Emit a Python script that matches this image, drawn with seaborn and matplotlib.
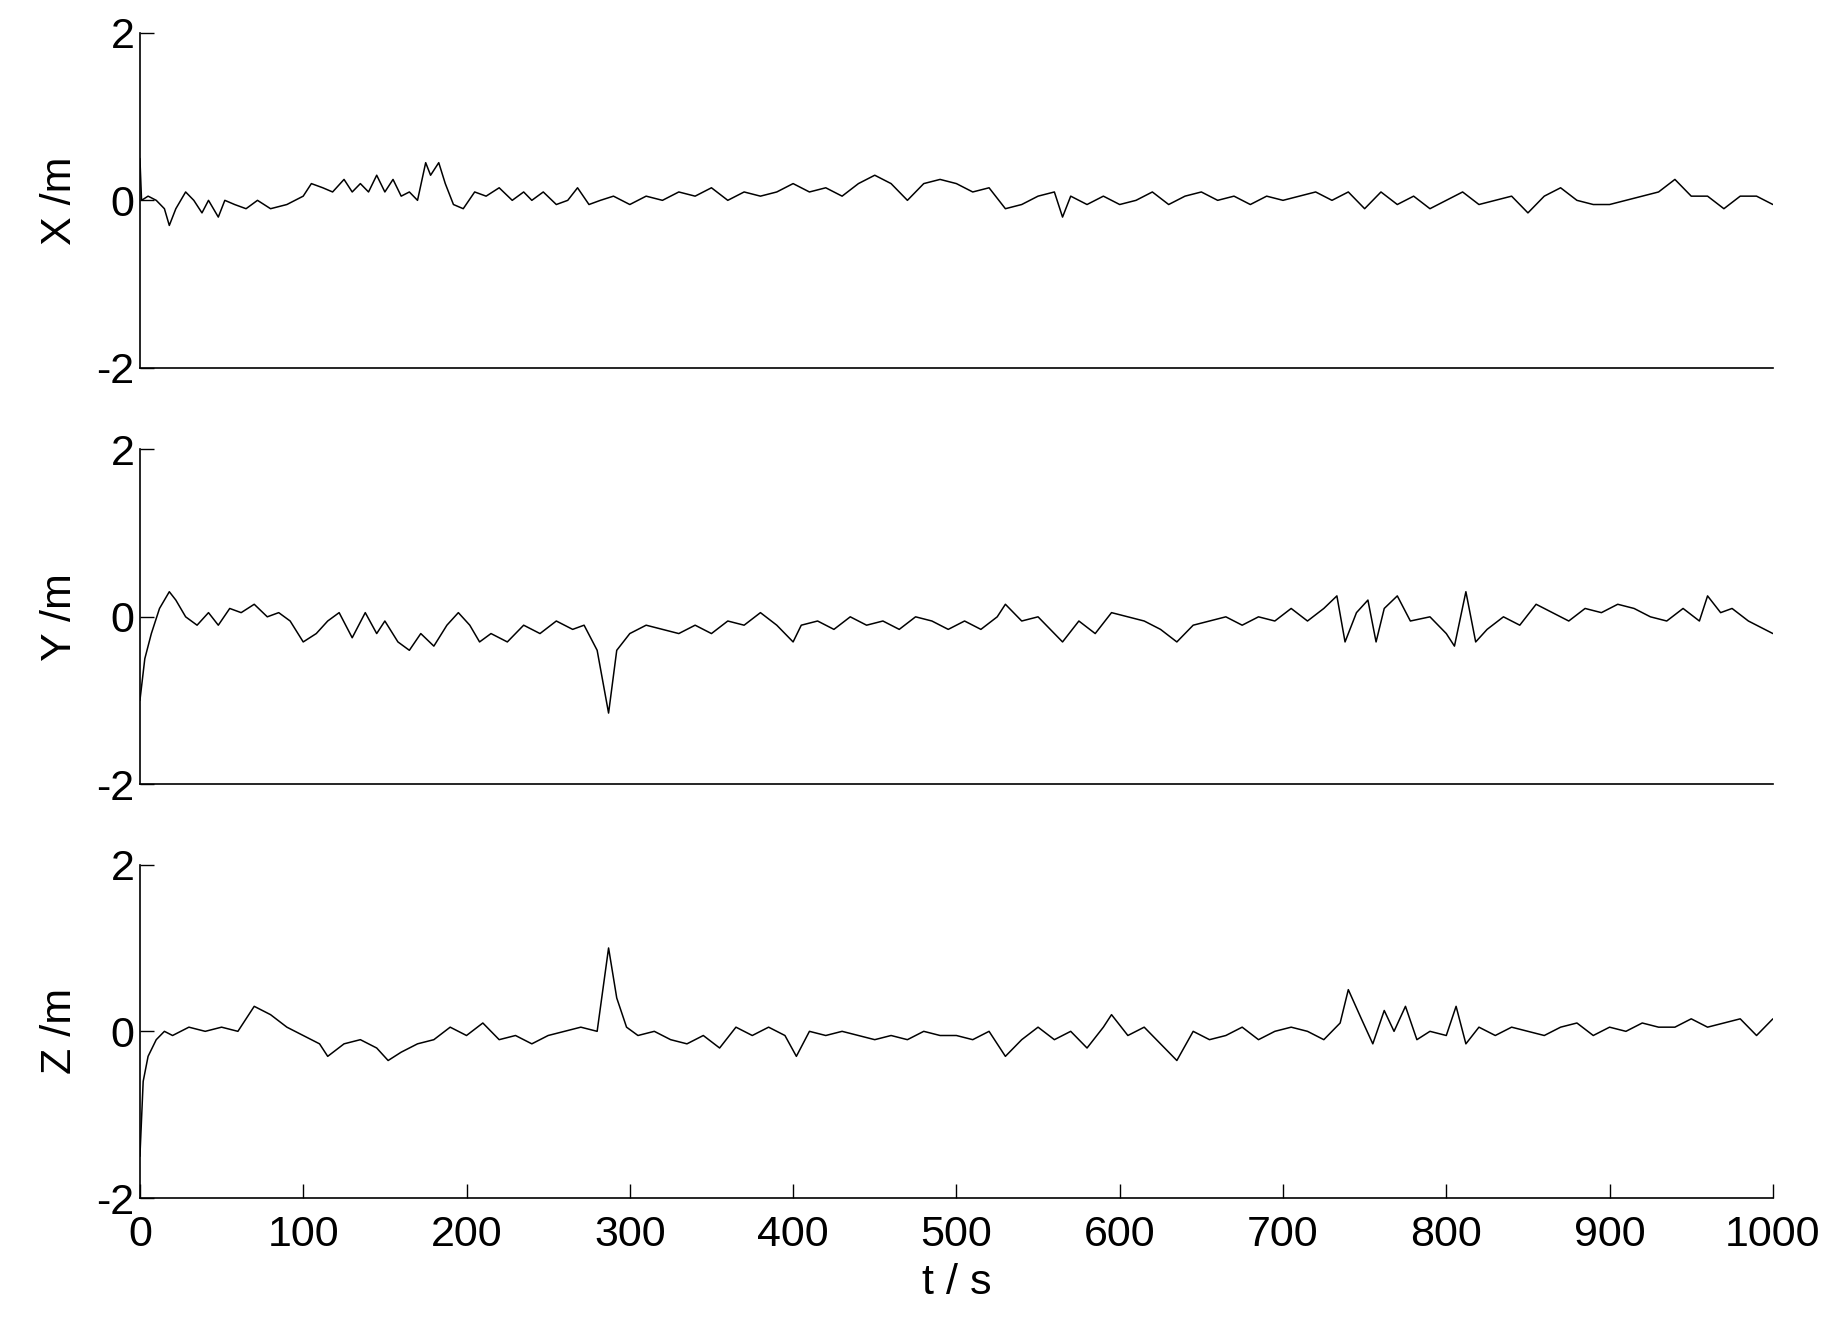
import matplotlib
matplotlib.use("Agg")
import matplotlib.pyplot as plt
import seaborn as sns
import pandas as pd

x_t = [0,1,5,10,15,18,22,28,33,38,42,48,52,58,65,72,80,90,100,105,112,118,125,130,135,140,145,150,155,160,165,170,175,178,183,187,192,198,205,212,220,228,235,240,247,255,262,268,275,282,290,300,310,320,330,340,350,360,370,380,390,400,410,420,430,440,450,460,470,480,490,500,510,520,530,540,550,560,565,570,580,590,600,610,620,630,640,650,660,670,680,690,700,710,720,730,740,750,760,770,780,790,800,810,820,830,840,850,860,870,880,890,900,910,920,930,940,950,960,970,980,990,1000]
x_v = [0.5,0,0.05,0,-0.1,-0.3,-0.1,0.1,0,-0.15,0,-0.2,0,-0.05,-0.1,0,-0.1,-0.05,0.05,0.2,0.15,0.1,0.25,0.1,0.2,0.1,0.3,0.1,0.25,0.05,0.1,0,0.45,0.3,0.45,0.2,-0.05,-0.1,0.1,0.05,0.15,0,0.1,0,0.1,-0.05,0,0.15,-0.05,0,0.05,-0.05,0.05,0,0.1,0.05,0.15,0,0.1,0.05,0.1,0.2,0.1,0.15,0.05,0.2,0.3,0.2,0,0.2,0.25,0.2,0.1,0.15,-0.1,-0.05,0.05,0.1,-0.2,0.05,-0.05,0.05,-0.05,0,0.1,-0.05,0.05,0.1,0,0.05,-0.05,0.05,0,0.05,0.1,0,0.1,-0.1,0.1,-0.05,0.05,-0.1,0,0.1,-0.05,0,0.05,-0.15,0.05,0.15,0,-0.05,-0.05,0,0.05,0.1,0.25,0.05,0.05,-0.1,0.05,0.05,-0.05]

y_t = [0,3,7,12,18,22,28,35,42,48,55,62,70,78,85,92,100,108,115,122,130,138,145,150,158,165,172,180,188,195,202,208,215,225,235,245,255,265,272,280,287,292,300,310,320,330,340,350,360,370,380,390,400,405,415,425,435,445,455,465,475,485,495,505,515,525,530,540,550,560,565,575,585,595,605,615,625,635,645,655,665,675,685,695,705,715,725,733,738,745,752,757,762,770,778,790,800,805,812,818,825,835,845,855,865,875,885,895,905,915,925,935,945,955,960,968,975,985,995,1000]
y_v = [-1.0,-0.5,-0.2,0.1,0.3,0.2,0,-0.1,0.05,-0.1,0.1,0.05,0.15,0,0.05,-0.05,-0.3,-0.2,-0.05,0.05,-0.25,0.05,-0.2,-0.05,-0.3,-0.4,-0.2,-0.35,-0.1,0.05,-0.1,-0.3,-0.2,-0.3,-0.1,-0.2,-0.05,-0.15,-0.1,-0.4,-1.15,-0.4,-0.2,-0.1,-0.15,-0.2,-0.1,-0.2,-0.05,-0.1,0.05,-0.1,-0.3,-0.1,-0.05,-0.15,0,-0.1,-0.05,-0.15,0,-0.05,-0.15,-0.05,-0.15,0,0.15,-0.05,0,-0.2,-0.3,-0.05,-0.2,0.05,0,-0.05,-0.15,-0.3,-0.1,-0.05,0,-0.1,0,-0.05,0.1,-0.05,0.1,0.25,-0.3,0.05,0.2,-0.3,0.1,0.25,-0.05,0,-0.2,-0.35,0.3,-0.3,-0.15,0,-0.1,0.15,0.05,-0.05,0.1,0.05,0.15,0.1,0,-0.05,0.1,-0.05,0.25,0.05,0.1,-0.05,-0.15,-0.2]

z_t = [0,2,5,10,15,20,30,40,50,60,70,80,90,100,110,115,125,135,145,152,160,170,180,190,200,210,220,230,240,250,260,270,280,287,292,298,305,315,325,335,345,355,365,375,385,395,402,410,420,430,440,450,460,470,480,490,500,510,520,530,540,550,560,570,580,590,595,605,615,625,635,645,655,665,675,685,695,705,715,725,735,740,748,755,762,768,775,782,790,800,806,812,820,830,840,850,860,870,880,890,900,910,920,930,940,950,960,970,980,990,995,1000]
z_v = [-1.5,-0.6,-0.3,-0.1,0,-0.05,0.05,0,0.05,0,0.3,0.2,0.05,-0.05,-0.15,-0.3,-0.15,-0.1,-0.2,-0.35,-0.25,-0.15,-0.1,0.05,-0.05,0.1,-0.1,-0.05,-0.15,-0.05,0,0.05,0,1.0,0.4,0.05,-0.05,0,-0.1,-0.15,-0.05,-0.2,0.05,-0.05,0.05,-0.05,-0.3,0,-0.05,0,-0.05,-0.1,-0.05,-0.1,0,-0.05,-0.05,-0.1,0,-0.3,-0.1,0.05,-0.1,0,-0.2,0.05,0.2,-0.05,0.05,-0.15,-0.35,0,-0.1,-0.05,0.05,-0.1,0,0.05,0,-0.1,0.1,0.5,0.15,-0.15,0.25,0,0.3,-0.1,0,-0.05,0.3,-0.15,0.05,-0.05,0.05,0,-0.05,0.05,0.1,-0.05,0.05,0,0.1,0.05,0.05,0.15,0.05,0.1,0.15,-0.05,0.05,0.15]

labels = ["X /m", "Y /m", "Z /m"]
series = [(x_t, x_v), (y_t, y_v), (z_t, z_v)]

sns.set_theme(style="white")
plt.rcParams['font.family'] = ['Liberation Sans', 'DejaVu Sans']
plt.rcParams['axes.unicode_minus'] = False
fig = plt.figure(figsize=(18.41, 13.18), dpi=100)
boxes = [(0.721, 0.975), (0.405, 0.659), (0.091, 0.344)]
for i, ((t, v), lab, (b, tp)) in enumerate(zip(series, labels, boxes)):
    ax = fig.add_axes([0.076, b, 0.887, tp - b])
    df = pd.DataFrame({"t": t, "v": v})
    sns.lineplot(data=df, x="t", y="v", ax=ax, color="black", linewidth=1.1)
    ax.set_xlim(0, 1000)
    ax.set_ylim(-2, 2)
    ax.set_yticks([-2, 0, 2])
    for s in ["top", "right"]:
        ax.spines[s].set_visible(False)
    for s in ["left", "bottom"]:
        ax.spines[s].set_color("black")
        ax.spines[s].set_linewidth(1.2)
    ax.tick_params(direction="in", length=10, width=1, labelsize=31, colors="black",
                   left=True, bottom=(i == 2), pad=4)
    ax.tick_params(axis="x", pad=12)
    ax.set_ylabel(lab, fontsize=31, color="black", labelpad=12)
    if i == 2:
        ax.set_xticks(range(0, 1001, 100))
        ax.set_xlabel("t / s", fontsize=31, color="black", labelpad=6)
    else:
        ax.set_xticks([])
        ax.set_xlabel("")
fig.savefig("out.png", dpi=100)
